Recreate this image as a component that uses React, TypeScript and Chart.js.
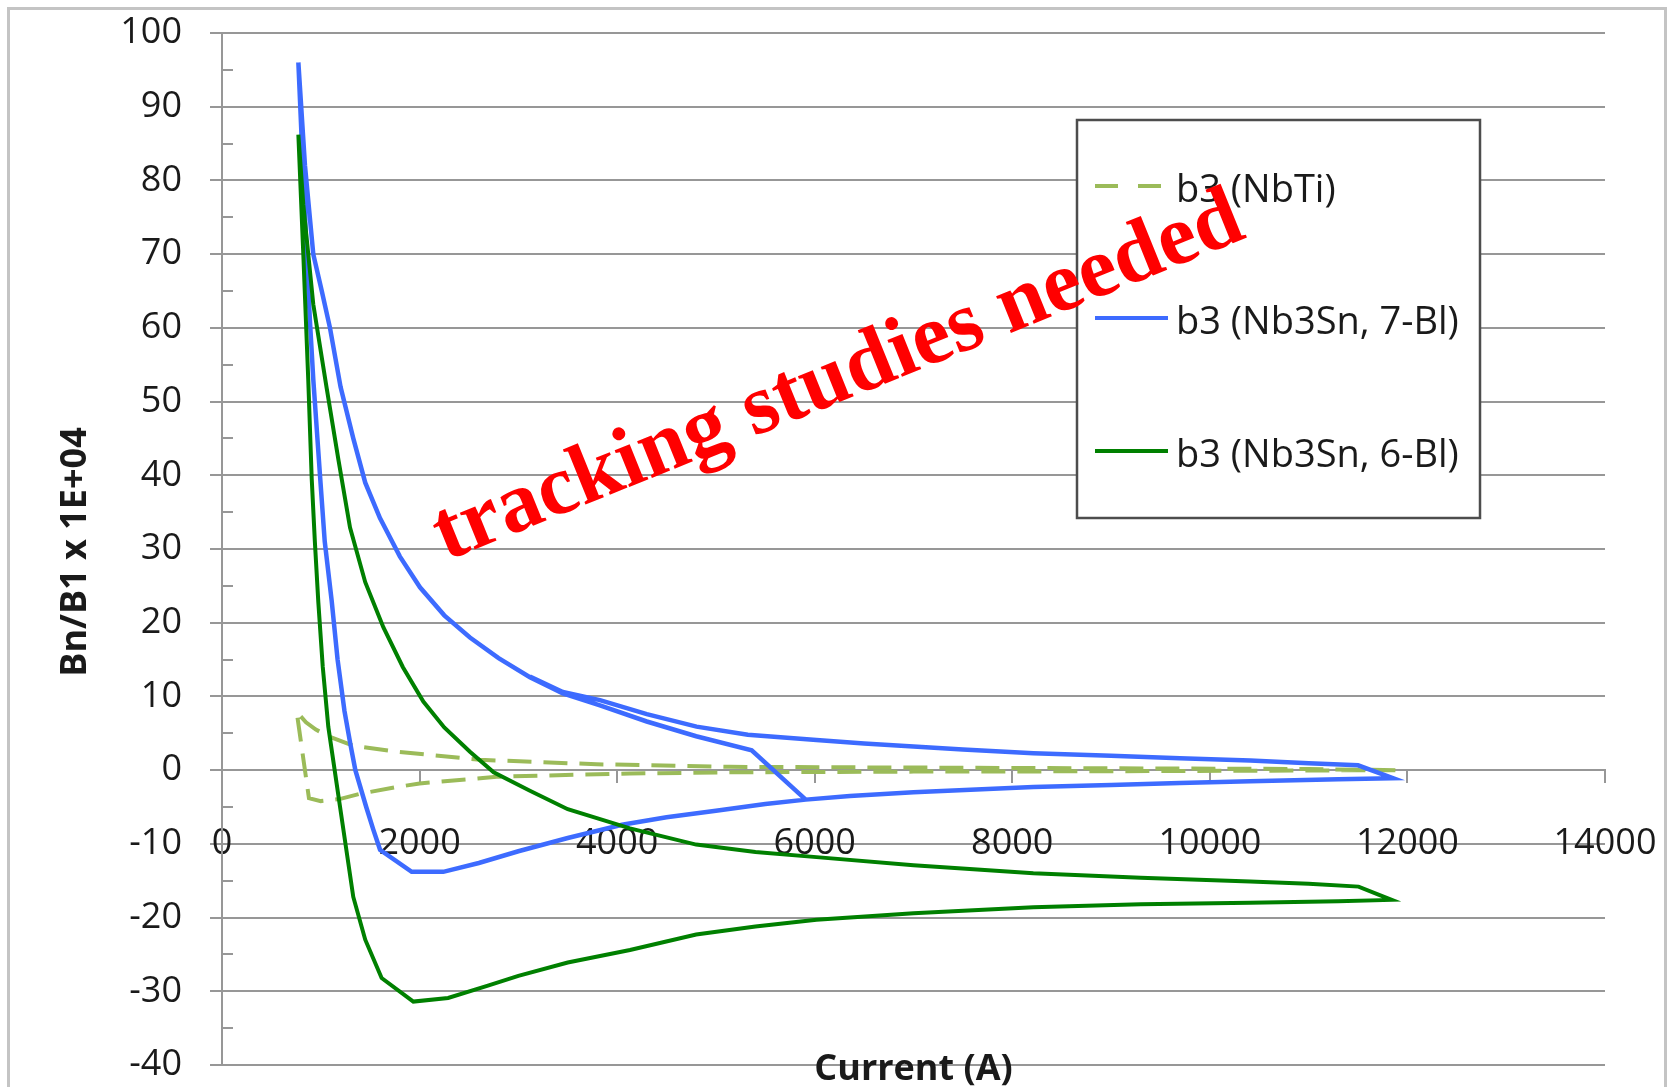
import React, { useEffect, useRef } from "react";
import { Chart, registerables } from "chart.js";

Chart.register(...registerables);

// ---- Data ----
const seriesLabels = ["b3 (NbTi)", "b3 (Nb3Sn, 7-Bl)", "b3 (Nb3Sn, 6-Bl)"];
const xAxisTitle = "Current (A)";
const yAxisTitle = "Bn/B1 x 1E+04";
const annotationText = "tracking studies needed";

const xMin = 0;
const xMax = 14000;
const xStep = 2000;
const yMin = -40;
const yMax = 100;
const yStep = 10;

const nbtiCurrent = [11878, 11000, 9000, 7000, 5142, 3792, 2611, 1768, 1329, 1093, 950, 850, 756, 880, 1000, 1200, 1400, 1768, 2000, 2780, 4130, 5142, 7000, 9000, 11000, 11878];
const nbtiB3 = [0.0, 0.15, 0.25, 0.35, 0.45, 0.8, 1.4, 2.5, 3.3, 4.5, 5.5, 6.5, 7.9, -3.8, -4.2, -3.9, -3.2, -2.3, -1.8, -0.9, -0.45, -0.3, -0.2, -0.15, -0.05, 0.0];

const bl7Current = [5909, 5362, 4800, 4300, 3826, 3450, 3117, 2800, 2510, 2250, 2004, 1800, 1599, 1450, 1329, 1200, 1093, 1010, 924, 840, 773, 815, 857, 890, 924, 992, 1040, 1110, 1170, 1240, 1300, 1350, 1460, 1530, 1600, 1920, 2240, 2600, 3000, 3500, 4050, 4500, 5000, 5500, 5909, 6356, 7000, 8213, 9000, 9696, 10408, 11300, 11855, 11500, 11000, 10408, 9696, 9000, 8213, 7500, 7000, 6500, 6018, 5323, 4804, 4300, 3826, 3450, 3117];
const bl7B3 = [-4.0, 2.7, 4.6, 6.6, 8.8, 10.4, 12.6, 15.2, 18.0, 21.0, 24.8, 29.0, 34.2, 39.0, 45.0, 52.0, 60.0, 65.0, 70.0, 82.0, 96.0, 83.0, 70.0, 61.0, 53.0, 40.0, 31.0, 23.0, 15.0, 8.0, 3.5, 0.0, -5.0, -8.0, -10.8, -13.8, -13.8, -12.6, -11.0, -9.2, -7.4, -6.4, -5.5, -4.6, -4.0, -3.5, -3.0, -2.3, -2.0, -1.75, -1.5, -1.25, -1.1, 0.65, 0.95, 1.3, 1.6, 1.95, 2.3, 2.8, 3.2, 3.6, 4.1, 4.8, 5.9, 7.6, 9.5, 10.6, 12.7];

const bl6Current = [773, 823, 873, 908, 940, 975, 1020, 1076, 1194, 1329, 1450, 1616, 1937, 2289, 2700, 3000, 3500, 4130, 4800, 5400, 6018, 7000, 8213, 9300, 10408, 11300, 11840, 11505, 11000, 10408, 9300, 8213, 7000, 6018, 5400, 4800, 4130, 3500, 3117, 2750, 2510, 2250, 2038, 1830, 1633, 1450, 1296, 1180, 1060, 924, 823, 773];
const bl6B3 = [86.2, 70, 53, 39.6, 31, 22.8, 14, 5.9, -4.9, -17.2, -23, -28.2, -31.4, -30.9, -29.2, -27.9, -26.1, -24.4, -22.3, -21.2, -20.3, -19.4, -18.6, -18.2, -18.0, -17.8, -17.6, -15.8, -15.4, -15.1, -14.6, -14.0, -12.9, -11.8, -11.1, -10.1, -7.9, -5.3, -2.8, -0.3, 2.5, 5.8, 9.3, 14.0, 19.4, 25.5, 32.9, 42.0, 51.8, 63.2, 76.7, 86.2];

const seriesColors = ["#9bbb59", "#3d6bff", "#008000"];

const toPoints = (xs: number[], ys: number[]) => xs.map((x, i) => ({ x, y: ys[i] }));

const FONT = "'Open Sans', 'DejaVu Sans', sans-serif";
const GRID = "#979797";

const decorPlugin = {
  id: "decor",
  beforeDraw(chart: any) {
    const ctx = chart.ctx as CanvasRenderingContext2D;
    ctx.save();
    ctx.fillStyle = "#ffffff";
    ctx.fillRect(0, 0, chart.width, chart.height);
    ctx.strokeStyle = "#c4c4c4";
    ctx.lineWidth = 3;
    ctx.strokeRect(8.5, 8.5, 1657, 1110);
    ctx.restore();
  },
  afterDraw(chart: any) {
    const ctx = chart.ctx as CanvasRenderingContext2D;
    const ys = chart.scales.y;
    ctx.save();
    // minor ticks on y axis (inside)
    ctx.strokeStyle = GRID;
    ctx.lineWidth = 2;
    for (let v = yMin + yStep / 2; v < yMax; v += yStep) {
      const py = Math.round(ys.getPixelForValue(v));
      ctx.beginPath();
      ctx.moveTo(chart.chartArea.left, py);
      ctx.lineTo(chart.chartArea.left + 11, py);
      ctx.stroke();
    }
    // axis titles
    ctx.fillStyle = "#1a1a1a";
    ctx.font = `bold 36px ${FONT}`;
    ctx.textAlign = "center";
    ctx.textBaseline = "alphabetic";
    ctx.fillText(xAxisTitle, (chart.chartArea.left + chart.chartArea.right) / 2, 1080);
    ctx.save();
    ctx.translate(86, 552);
    ctx.rotate(-Math.PI / 2);
    ctx.fillText(yAxisTitle, 0, 0);
    ctx.restore();

    // legend
    const lx = 1077, ly = 120, lw = 403, lh = 398;
    ctx.fillStyle = "#ffffff";
    ctx.fillRect(lx, ly, lw, lh);
    ctx.strokeStyle = "#4d4d4d";
    ctx.lineWidth = 2.5;
    ctx.strokeRect(lx, ly, lw, lh);
    const rows = [186, 318, 451];
    chart.data.datasets.forEach((ds: any, i: number) => {
      const yy = rows[i];
      ctx.strokeStyle = ds.borderColor;
      ctx.lineWidth = 4;
      ctx.setLineDash(ds.borderDash && ds.borderDash.length ? [23, 20] : []);
      ctx.beginPath();
      ctx.moveTo(1095, yy);
      ctx.lineTo(1168, yy);
      ctx.stroke();
      ctx.setLineDash([]);
      ctx.fillStyle = "#1a1a1a";
      ctx.font = `38px ${FONT}`;
      ctx.textAlign = "left";
      ctx.textBaseline = "middle";
      ctx.fillText(ds.label, 1176, yy + 5);
    });

    // red annotation
    ctx.save();
    ctx.translate(446, 561);
    ctx.rotate((-22 * Math.PI) / 180);
    ctx.fillStyle = "#ff0000";
    ctx.font = "bold 86px 'Liberation Serif', 'DejaVu Serif', serif";
    ctx.textAlign = "left";
    ctx.textBaseline = "alphabetic";
    ctx.fillText(annotationText, 0, 0);
    ctx.restore();

    ctx.restore();
  },
};

export default function App() {
  const ref = useRef<HTMLCanvasElement>(null);
  useEffect(() => {
    document.body.style.margin = "0";
    const canvas = ref.current!;
    const chart = new Chart(canvas, {
      type: "scatter",
      data: {
        datasets: [
          {
            label: seriesLabels[0],
            data: toPoints(nbtiCurrent, nbtiB3),
            showLine: true,
            borderColor: seriesColors[0],
            backgroundColor: seriesColors[0],
            borderWidth: 4,
            borderDash: [24, 12],
            pointRadius: 0,
            tension: 0,
            order: 3,
          },
          {
            label: seriesLabels[1],
            data: toPoints(bl7Current, bl7B3),
            showLine: true,
            borderColor: seriesColors[1],
            backgroundColor: seriesColors[1],
            borderWidth: 4.5,
            pointRadius: 0,
            tension: 0,
            order: 2,
          },
          {
            label: seriesLabels[2],
            data: toPoints(bl6Current, bl6B3),
            showLine: true,
            borderColor: seriesColors[2],
            backgroundColor: seriesColors[2],
            borderWidth: 4,
            pointRadius: 0,
            tension: 0,
            order: 1,
          },
        ],
      },
      options: {
        animation: false,
        responsive: false,
        devicePixelRatio: 1,
        layout: { padding: { left: 0, right: 70, top: 33, bottom: 22 } },
        plugins: {
          legend: { display: false },
          tooltip: { enabled: false },
          title: { display: false },
        },
        scales: {
          x: {
            type: "linear",
            position: { y: 0 } as any,
            min: xMin,
            max: xMax,
            afterFit: (s: any) => {
              s.paddingLeft = 0;
              s.paddingRight = 0;
              s.paddingTop = 0;
              s.paddingBottom = 0;
            },
            ticks: {
              stepSize: xStep,
              font: { family: FONT, size: 36 },
              color: "#1a1a1a",
              padding: 40,
              maxRotation: 0,
              autoSkip: false,
              callback: (v: any) => String(v),
            },
            grid: {
              drawOnChartArea: false,
              drawTicks: true,
              tickLength: 12,
              color: GRID,
              lineWidth: 2,
            },
            border: { display: true, color: GRID, width: 2 },
          },
          y: {
            type: "linear",
            position: "left",
            min: yMin,
            max: yMax,
            afterFit: (s: any) => {
              s.width = 222;
              s.paddingTop = 0;
              s.paddingBottom = 0;
            },
            ticks: {
              stepSize: yStep,
              font: { family: FONT, size: 36 },
              color: "#1a1a1a",
              padding: 28,
              autoSkip: false,
              callback: (v: any) => String(v),
            },
            grid: {
              color: GRID,
              lineWidth: 2,
              tickLength: 12,
              drawTicks: true,
            },
            border: { display: true, color: GRID, width: 2 },
          },
        },
      },
      plugins: [decorPlugin],
    });
    return () => chart.destroy();
  }, []);
  return (
    <div style={{ width: 1675, height: 1087, position: "relative", overflow: "hidden" }}>
      <canvas ref={ref} width={1675} height={1087} style={{ display: "block" }} />
    </div>
  );
}
